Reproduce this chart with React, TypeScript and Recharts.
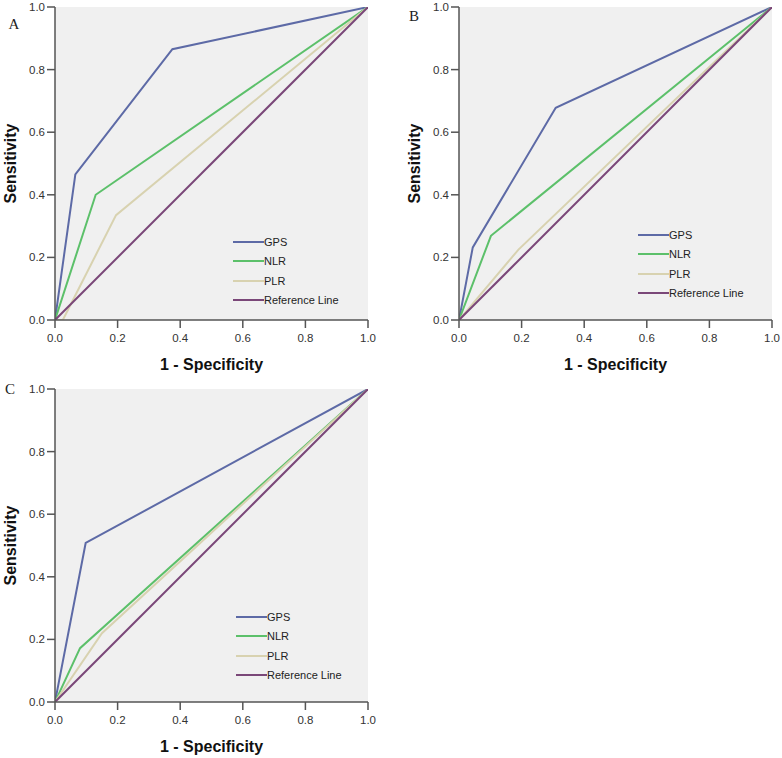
import React from 'react';
import { LineChart, Line, XAxis, YAxis, CartesianGrid } from 'recharts';

// ROC points, [1 - specificity, sensitivity]
const gpsA = [[0, 0], [0.065, 0.465], [0.375, 0.865], [1, 1]];
const nlrA = [[0, 0], [0.13, 0.4], [1, 1]];
const plrA = [[0, 0], [0.025, 0], [0.195, 0.335], [1, 1]];

const gpsB = [[0, 0], [0.044, 0.232], [0.309, 0.678], [1, 1]];
const nlrB = [[0, 0], [0.102, 0.269], [1, 1]];
const plrB = [[0, 0], [0.19, 0.225], [1, 1]];

const gpsC = [[0, 0], [0.098, 0.508], [1, 1]];
const nlrC = [[0, 0], [0.08, 0.172], [1, 1]];
const plrC = [[0, 0], [0.15, 0.22], [1, 1]];

const referenceLine = [[0, 0], [1, 1]];

const TICKS = [0, 0.2, 0.4, 0.6, 0.8, 1.0];
const SERIES_NAMES = ['GPS', 'NLR', 'PLR', 'Reference Line'];
const COLORS = ['#5d6aa6', '#5cc06a', '#d8d2b0', '#7a4778'];

const toRows = (pts: number[][]) => pts.map(([x, y]) => ({ x, y }));

const AXIS = '#555';
const SANS = 'Arial, "Liberation Sans", sans-serif';

interface PanelProps {
  letter: string;
  left: number;
  top: number;
  curves: number[][][];
  legendTop: number;
  legendLeft: number;
  letterPos: [number, number];
}

const Panel: React.FC<PanelProps> = ({ letter, left, top, curves, legendTop, legendLeft, letterPos }) => {
  return (
    <div style={{ position: 'absolute', left, top, width: 385, height: 375 }}>
      <LineChart width={385} height={375} margin={{ top: 7, right: 17, left: 0, bottom: 0 }}>
        <CartesianGrid horizontal={false} vertical={false} fill="#f0f0f0" />
        <XAxis
          type="number"
          dataKey="x"
          domain={[0, 1]}
          ticks={TICKS}
          tickFormatter={(v) => Number(v).toFixed(1)}
          height={55}
          tickSize={8}
          tickMargin={6}
          axisLine={{ stroke: AXIS, strokeWidth: 1.5 }}
          tickLine={{ stroke: AXIS, strokeWidth: 1.5 }}
          tick={{ fill: '#333', fontSize: 11.5, fontFamily: SANS }}
          allowDataOverflow
          label={{
            value: '1 - Specificity',
            position: 'insideBottom',
            offset: 5,
            style: { fontSize: 16, fontWeight: 'bold', fill: '#111', fontFamily: SANS },
          }}
        />
        <YAxis
          type="number"
          dataKey="y"
          domain={[0, 1]}
          ticks={TICKS}
          tickFormatter={(v) => Number(v).toFixed(1)}
          width={55}
          tickSize={8}
          tickMargin={2}
          axisLine={{ stroke: AXIS, strokeWidth: 1.5 }}
          tickLine={{ stroke: AXIS, strokeWidth: 1.5 }}
          tick={{ fill: '#333', fontSize: 11.5, fontFamily: SANS }}
          allowDataOverflow
          label={{
            value: 'Sensitivity',
            angle: -90,
            position: 'insideLeft',
            offset: 10,
            style: { textAnchor: 'middle', fontSize: 16, fontWeight: 'bold', fill: '#111', fontFamily: SANS },
          }}
        />
        {curves.map((pts, i) => (
          <Line
            key={SERIES_NAMES[i]}
            data={toRows(pts)}
            dataKey="y"
            type="linear"
            stroke={COLORS[i]}
            strokeWidth={2}
            dot={false}
            activeDot={false}
            isAnimationActive={false}
          />
        ))}
      </LineChart>

      {/* panel letter */}
      <div
        style={{
          position: 'absolute',
          left: letterPos[0],
          top: letterPos[1],
          transform: 'translate(-50%, -50%)',
          fontFamily: '"Liberation Serif", "DejaVu Serif", serif',
          fontSize: 15,
          color: '#222',
        }}
      >
        {letter}
      </div>

      {/* legend */}
      <div style={{ position: 'absolute', left: legendLeft, top: legendTop }}>
        {SERIES_NAMES.map((name, i) => (
          <div key={name} style={{ display: 'flex', alignItems: 'center', height: 19.5 }}>
            <div style={{ width: 31, height: 2, backgroundColor: COLORS[i] }} />
            <span style={{ fontSize: 11, color: '#222', fontFamily: SANS }}>{name}</span>
          </div>
        ))}
      </div>
    </div>
  );
};

export default function App() {
  return (
    <div style={{ position: 'absolute', left: 0, top: 0, width: 782, height: 758, background: '#fff' }}>
      <Panel
        letter="A"
        left={0}
        top={0}
        curves={[gpsA, nlrA, plrA, referenceLine]}
        legendLeft={233}
        legendTop={232}
        letterPos={[14, 24]}
      />
      <Panel
        letter="B"
        left={404}
        top={0}
        curves={[gpsB, nlrB, plrB, referenceLine]}
        legendLeft={234}
        legendTop={225}
        letterPos={[10, 16]}
      />
      <Panel
        letter="C"
        left={0}
        top={382}
        curves={[gpsC, nlrC, plrC, referenceLine]}
        legendLeft={236}
        legendTop={225}
        letterPos={[10, 7]}
      />
    </div>
  );
}
